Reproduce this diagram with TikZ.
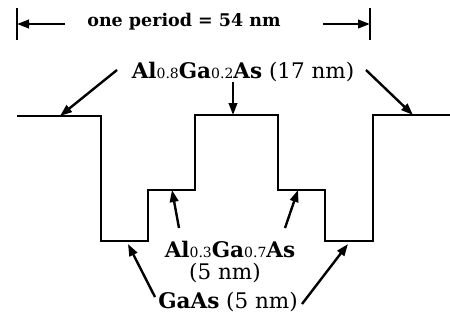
\documentclass[tikz,border=0pt]{standalone}
\usepackage{fontspec}
\setmainfont{DejaVu Serif}
\usetikzlibrary{arrows.meta, positioning}
\tikzset{
  prof/.style={line width=1.8pt, line join=miter},
  bar/.style={line width=1.8pt},
  ptr/.style={-{Triangle[length=12pt,width=8.5pt]}, line width=2.4pt},
  lbl/.style={font=\fontsize{21.5}{24}\selectfont, inner sep=0pt},
  plbl/.style={font=\fontsize{17.5}{20}\selectfont, inner sep=0pt},
}
\newcommand{\subx}[1]{{\mdseries\fontsize{14}{14}\selectfont #1}}
\begin{document}
\begin{tikzpicture}[x=1pt,y=-1pt]
  \useasboundingbox (0,0) rectangle (450,322);
  % period marker
  \node[plbl] (period) at (184,22) {\bfseries one period = 54 nm};
  \coordinate (barL) at (17,24);
  \coordinate (barR) at (370,24);
  \coordinate (pa) at (65,24);
  \coordinate (pb) at (323,24);
  \draw[bar] (17,8) -- (17,40);
  \draw[bar] (370,8) -- (370,40);
  \draw[ptr] (pa) -- (barL);
  \draw[ptr] (pb) -- (barR);
  % layer profile
  \draw[prof] (17,116) -- (101,116) -- (101,241) -- (148,241) -- (148,190)
    -- (195,190) -- (195,115) -- (278,115) -- (278,190) -- (325,190)
    -- (325,241) -- (373,241) -- (373,115) -- (450,115);
  % barrier label
  \node[lbl] (barrier) at (243,72)
    {\textbf{Al}\subx{0.8}\textbf{Ga}\subx{0.2}\textbf{As} {\mdseries(17 nm)}};
  \coordinate (b1) at (60,116);
  \coordinate (b2) at (233,115);
  \coordinate (b3) at (413,115);
  \draw[ptr] (117,70) -- (b1);
  \draw[ptr] (233,82) -- (b2);
  \draw[ptr] (366,70) -- (b3);
  % step label
  \node[lbl] (step1) at (230,249)
    {\textbf{Al}\subx{0.3}\textbf{Ga}\subx{0.7}\textbf{As}};
  \node[lbl] (step2) at (225,273) {(5 nm)};
  \coordinate (s1) at (172,190);
  \coordinate (s2) at (298,190);
  \draw[ptr] (179,228) -- (s1);
  \draw[ptr] (285,228) -- (s2);
  % well label
  \node[lbl] (well) at (228,302) {\textbf{GaAs} {\mdseries(5 nm)}};
  \coordinate (w1) at (128,244);
  \coordinate (w2) at (348,244);
  \draw[ptr] (155,297) -- (w1);
  \draw[ptr] (302,304) -- (w2);
\end{tikzpicture}
\end{document}
